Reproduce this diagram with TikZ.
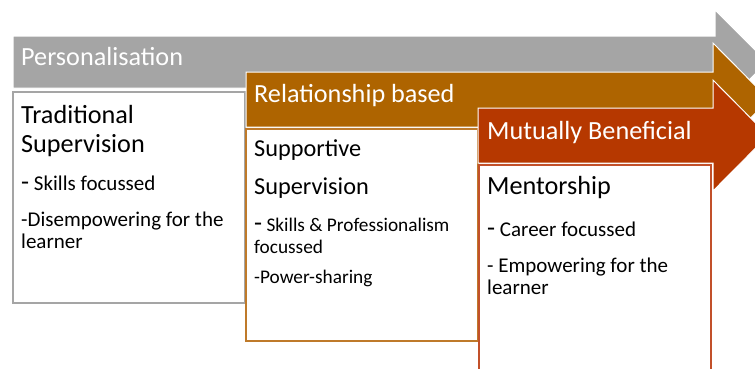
\documentclass[tikz,border=0pt]{standalone}
\usepackage{fontspec}
\setmainfont{Carlito}
\definecolor{cgray}{HTML}{A5A5A5}
\definecolor{cbrown}{HTML}{AE6400}
\definecolor{cred}{HTML}{B63800}
\definecolor{cbrownline}{HTML}{BF7A2A}
\definecolor{credline}{HTML}{C2502A}
\newcommand{\bigdash}{{\fontsize{26.2}{30}\selectfont -}}
\tikzset{
  arrowshape/.style={draw=white, line width=1pt},
  boxshape/.style={fill=white, line width=1.3pt},
  headtxt/.style={anchor=base west, inner sep=0pt, text=white, font=\fontsize{26.2}{30}\selectfont},
  titletxt/.style={anchor=base west, inner sep=0pt, text=black, font=\fontsize{26.2}{30}\selectfont},
  titletxtb/.style={anchor=base west, inner sep=0pt, text=black, font=\fontsize{24.3}{28}\selectfont},
  itemtxt/.style={anchor=base west, inner sep=0pt, text=black, font=\fontsize{21}{25}\selectfont},
  itemtxtb/.style={anchor=base west, inner sep=0pt, text=black, font=\fontsize{19.3}{23}\selectfont},
}
\begin{document}
\begin{tikzpicture}[x=1pt,y=-1pt]
\useasboundingbox (0,0) rectangle (755,368);
\clip (0,0) rectangle (755,368);
% gray arrow
\path[arrowshape, fill=cgray] (13,36) -- (715,36) -- (715,10) -- (767,62) -- (715,114) -- (715,88) -- (13,88) -- cycle;
\node[headtxt] (p) at (21,65) {Personalisation};
% box 1
\draw[boxshape, draw=cgray] (13,92) rectangle (245,303);
\node[titletxt] (t1a) at (21,123) {Traditional};
\node[titletxt] (t1b) at (21,152) {Supervision};
\node[itemtxt] (i1a) at (21,190) {\bigdash\ Skills focussed};
\node[itemtxt] (i1b) at (21,226) {-Disempowering for the};
\node[itemtxt] (i1c) at (21,248) {learner};
% brown arrow
\path[arrowshape, fill=cbrown] (246,72) -- (713,72) -- (713,43) -- (769,99.5) -- (713,156) -- (713,127) -- (246,127) -- cycle;
\node[headtxt] (r) at (254,102) {Relationship based};
% box 2
\draw[boxshape, draw=cbrownline] (246,129) rectangle (478,341);
\node[titletxtb] (t2a) at (254,156) {Supportive};
\node[titletxtb] (t2b) at (254,194) {Supervision};
\node[itemtxtb] (i2a) at (254,231) {\bigdash\ Skills \& Professionalism};
\node[itemtxtb] (i2b) at (254,253) {focussed};
\node[itemtxtb] (i2c) at (254,283) {-Power-sharing};
% red arrow
\path[arrowshape, fill=cred] (478,108) -- (713,108) -- (713,80) -- (768,135.5) -- (713,191) -- (713,163) -- (478,163) -- cycle;
\node[headtxt] (m) at (487,139) {Mutually Beneficial};
% box 3
\draw[boxshape, draw=credline] (479,165) rectangle (711,380);
\node[titletxt] (t3a) at (487,194) {Mentorship};
\node[itemtxt] (i3a) at (487,236) {\bigdash\ Career focussed};
\node[itemtxt] (i3b) at (487,272) {- Empowering for the};
\node[itemtxt] (i3c) at (487,294) {learner};
\end{tikzpicture}
\end{document}
